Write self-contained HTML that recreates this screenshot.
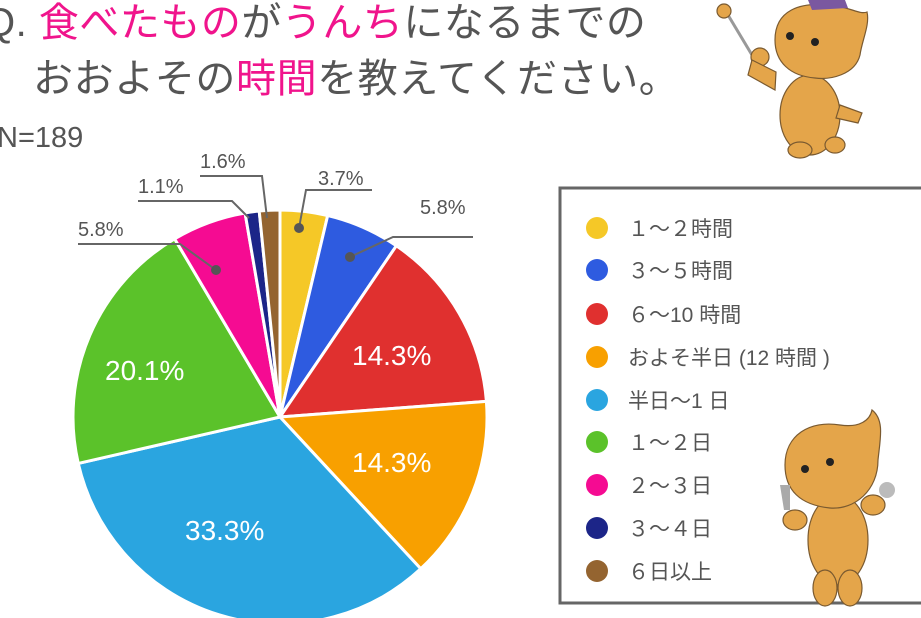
<!DOCTYPE html>
<html><head><meta charset="utf-8"><style>
html,body{margin:0;padding:0;background:#fff;}
body{width:921px;height:618px;overflow:hidden;position:relative;font-family:"Liberation Sans","Noto Sans CJK JP",sans-serif;}
.t{position:absolute;white-space:nowrap;color:#555;}
.pk{color:#f0148c;}
</style></head><body>
<div class="t" style="left:-16px;top:-10px;font-size:40px;letter-spacing:0.5px;">Q. <span class="pk">食べたもの</span>が<span class="pk">うんち</span>になるまでの</div>
<div class="t" style="left:33px;top:46px;font-size:40px;letter-spacing:0.6px;">おおよその<span class="pk">時間</span>を教えてください。</div>
<div class="t" style="left:-3px;top:122px;font-size:29px;">N=189</div>

<svg width="921" height="618" style="position:absolute;left:0;top:0" id="s">
<g id="pie"></g>
<g stroke="#666" stroke-width="2" fill="none">
<polyline points="299,228 306,190 372,190"/>
<polyline points="350,257 393,237 473,237"/>
<polyline points="267,218 262,176 200,176"/>
<polyline points="249,218 232,201 138,201"/>
<polyline points="216,270 180,244 78,244"/>
</g>
<g fill="#555"><circle cx="299" cy="228" r="5"/><circle cx="350" cy="257" r="5"/><circle cx="216" cy="270" r="5"/></g>
<g font-family="Liberation Sans, sans-serif" font-size="20" fill="#555">
<text x="318" y="185">3.7%</text>
<text x="420" y="214">5.8%</text>
<text x="200" y="168">1.6%</text>
<text x="138" y="193">1.1%</text>
<text x="78" y="236">5.8%</text>
</g>
<g font-family="Liberation Sans, sans-serif" font-size="28" fill="#fff">
<text x="352" y="365">14.3%</text>
<text x="352" y="472">14.3%</text>
<text x="185" y="540">33.3%</text>
<text x="105" y="380">20.1%</text>
</g>
<rect x="560" y="188" width="370" height="415" fill="none" stroke="#666" stroke-width="3"/>
<g id="leg"></g>
<!-- mascot top -->
<g fill="#e4a54a" stroke="#7a5a30" stroke-width="1.2">
<line x1="725" y1="10" x2="752" y2="55" stroke="#999" stroke-width="3"/>
<circle cx="724" cy="11" r="7"/>
<ellipse cx="810" cy="115" rx="30" ry="40"/>
<ellipse cx="760" cy="57" rx="9" ry="9"/>
<path d="M776,72 L752,60 L748,75 L775,90Z"/>
<path d="M840,105 L862,113 L858,123 L836,118Z"/>
<ellipse cx="800" cy="150" rx="12" ry="8"/>
<ellipse cx="835" cy="145" rx="10" ry="8"/>
<path d="M775,40 C775,10 800,2 830,5 C850,7 860,15 867,12 C870,25 862,40 860,55 C855,75 830,80 815,78 C790,76 775,62 775,40Z"/>
</g>
<path d="M808,0 L845,0 L848,8 L812,10Z" fill="#7a58a0"/>
<circle cx="790" cy="36" r="4" fill="#222"/><circle cx="815" cy="42" r="4" fill="#222"/>
<!-- mascot bottom -->
<g fill="#e4a54a" stroke="#7a5a30" stroke-width="1.2">
<ellipse cx="838" cy="540" rx="30" ry="45"/>
<ellipse cx="825" cy="588" rx="12" ry="18"/><ellipse cx="850" cy="588" rx="12" ry="18"/>
<ellipse cx="795" cy="520" rx="12" ry="10"/><ellipse cx="873" cy="505" rx="12" ry="10"/>
<path d="M785,465 C785,435 810,420 840,425 C860,428 870,420 872,410 C885,420 880,440 878,460 C878,490 855,510 830,508 C800,505 785,490 785,465Z"/>
</g>
<circle cx="887" cy="490" r="8" fill="#bbb"/>
<path d="M780,485 l10,0 l0,25 l-6,0z" fill="#aaa"/>
<circle cx="805" cy="469" r="4" fill="#222"/><circle cx="830" cy="462" r="4" fill="#222"/>
</svg>
<script>
var d=[[3.7,"#f5c827"],[5.8,"#2e5be0"],[14.3,"#e0302f"],[14.3,"#f8a000"],[33.3,"#2aa5e0"],[20.1,"#5bc22a"],[5.8,"#f50b92"],[1.1,"#1c2588"],[1.6,"#946430"]];
var cx=280,cy=417,r=207,a=0,h="";
d.forEach(function(s){var b=a+s[0]/100*2*Math.PI;
var x1=cx+r*Math.sin(a),y1=cy-r*Math.cos(a),x2=cx+r*Math.sin(b),y2=cy-r*Math.cos(b);
h+='<path d="M'+cx+','+cy+' L'+x1+','+y1+' A'+r+','+r+' 0 '+((b-a)>Math.PI?1:0)+' 1 '+x2+','+y2+'Z" fill="'+s[1]+'" stroke="#fff" stroke-width="3" stroke-linejoin="round"/>';a=b;});
document.getElementById("pie").innerHTML=h;
var L=["１～２時間","３～５時間","６～10 時間","およそ半日 (12 時間 )","半日～1 日","１～２日","２～３日","３～４日","６日以上"];
var ys=[228,270,314,357,400,442,485,528,571],g="";
L.forEach(function(t,i){g+='<circle cx="597" cy="'+ys[i]+'" r="11" fill="'+d[i][1]+'"/><text x="628" y="'+(ys[i]+8)+'" font-size="21" fill="#555" font-family="Liberation Sans, Noto Sans CJK JP, sans-serif">'+t+'</text>';});
document.getElementById("leg").innerHTML=g;
</script>
</body></html>
